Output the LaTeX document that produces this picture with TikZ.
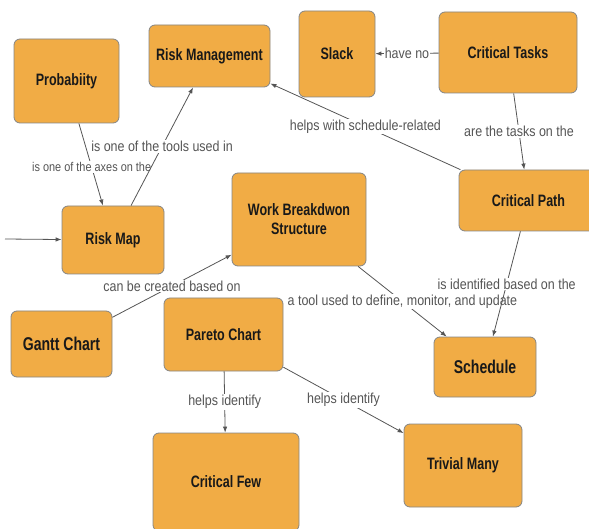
\documentclass[tikz,border=0pt]{standalone}
\usepackage{fontspec}
\setmainfont{Liberation Sans}
\newfontfamily\conceptfont{Liberation Sans}[FakeStretch=0.76]
\newfontfamily\linkfont{Liberation Sans}[FakeStretch=0.86]
\usetikzlibrary{arrows.meta,positioning,shapes}
\definecolor{conceptfill}{HTML}{F1AC45}
\definecolor{conceptline}{HTML}{858585}
\definecolor{linkgray}{HTML}{555555}

\begin{document}
\begin{tikzpicture}[x = 1pt, y = -1pt,
  concept/.style = {draw = conceptline, fill = conceptfill, rounded corners = 6pt, line width = 0.8pt,
    align = center, inner sep = 0pt, text = black!90,
    font = \conceptfont\bfseries\fontsize{16.5}{19}\selectfont},
  bigconcept/.style = {concept, font = \conceptfont\bfseries\fontsize{18.5}{21}\selectfont},
  link/.style = {draw = linkgray, line width = 0.8pt, -{Latex[length=6pt,width=4.5pt]}},
  lbl/.style = {fill = white, inner sep = 1pt, text = linkgray, midway,
    font = \linkfont\fontsize{14.5}{16}\selectfont},
  smalllbl/.style = {lbl, font = \linkfont\fontsize{12.7}{14}\selectfont}]
\useasboundingbox (0,0) rectangle (589,529);

% concepts
\node[concept, minimum width = 105, minimum height = 84] (prob) at (66.5,81) {Probabiity};
\node[concept, minimum width = 121, minimum height = 62] (riskmgmt) at (209.5,56) {Risk Management};
\node[concept, minimum width = 76, minimum height = 86] (slack) at (337,54) {Slack};
\node[concept, minimum width = 138, minimum height = 81] (crittasks) at (508,52.5) {Critical Tasks};
\node[concept, minimum width = 139, minimum height = 61] (critpath) at (528.5,200.5) {Critical Path};
\node[concept, minimum width = 102, minimum height = 68] (riskmap) at (113,240) {Risk Map};
\node[concept, minimum width = 134, minimum height = 93] (wbs) at (299,219.5) {Work Breakdwon\\Structure};
\node[bigconcept, minimum width = 101, minimum height = 66] (gantt) at (61.5,344) {Gantt Chart};
\node[concept, minimum width = 119, minimum height = 73] (pareto) at (223.5,334.5) {Pareto Chart};
\node[concept, minimum width = 146, minimum height = 98] (critfew) at (226,482) {Critical Few};
\node[bigconcept, minimum width = 102, minimum height = 60] (schedule) at (485,367) {Schedule};
\node[concept, minimum width = 118, minimum height = 83] (trivial) at (463,465.5) {Trivial Many};
\coordinate (entry) at (5,239);

% links
\draw[link] (entry) -- (riskmap);
\draw[link] (prob) -- node[smalllbl, pos = 0.53] {is one of the axes on the} (riskmap);
\draw[link] (riskmap) -- node[lbl] {is one of the tools used in} (riskmgmt);
\draw[link] (crittasks) -- node[lbl] {have no} (slack);
\draw[link] (critpath) -- node[lbl] {helps with schedule-related} (riskmgmt);
\draw[link] (crittasks) -- node[lbl] {are the tasks on the} (critpath);
\draw[link] (gantt) -- node[lbl] {can be created based on} (wbs);
\draw[link] (wbs) -- node[lbl] {a tool used to define, monitor, and update} (schedule);
\draw[link] (critpath) -- node[lbl] {is identified based on the} (schedule);
\draw[link] (pareto) -- node[lbl] {helps identify} (critfew);
\draw[link] (pareto) -- node[lbl] {helps identify} (trivial);
\end{tikzpicture}
\end{document}
